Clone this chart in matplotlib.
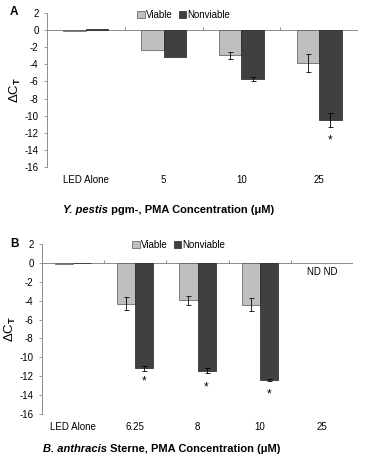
import numpy as np
import matplotlib
matplotlib.use("Agg")
import matplotlib.pyplot as plt

plt.rcParams["font.family"] = ["Liberation Sans", "DejaVu Sans"]
plt.rcParams["axes.unicode_minus"] = False
plt.rcParams["mathtext.fontset"] = "custom"
plt.rcParams["mathtext.rm"] = "Liberation Sans:bold"
plt.rcParams["mathtext.default"] = "rm"

# Panel A: Y. pestis pgm-
cats_a = ["LED Alone", "5", "10", "25"]
viable_a = [-0.05, -2.38, -2.96, -3.9]
viable_err_a = [0.0, 0.0, 0.4, 1.05]
nonviable_a = [0.1, -3.12, -5.69, -10.55]
nonviable_err_a = [0.0, 0.0, 0.2, 0.82]
star_a = [None, None, None, -12.85]
nd_a = [False, False, False, False]

# Panel B: B. anthracis Sterne
cats_b = ["LED Alone", "6.25", "8", "10", "25"]
viable_b = [-0.17, -4.32, -3.96, -4.42, np.nan]
viable_err_b = [0.0, 0.7, 0.5, 0.65, 0.0]
nonviable_b = [-0.05, -11.17, -11.41, -12.37, np.nan]
nonviable_err_b = [0.0, 0.25, 0.25, 0.12, 0.0]
star_b = [None, -12.6, -13.2, -13.9, None]
nd_b = [False, False, False, False, True]

yticks = np.arange(-16, 3, 2)
C_VIA = "#bfbfbf"
C_NON = "#404040"
GRID = "#8c8c8c"
W = 0.29
FS = 7


def panel(fig, rect, cats, via, via_err, non, non_err, stars, nds):
    ax = fig.add_axes(rect)
    x = np.arange(len(cats))
    ax.bar(x - W / 2, via, W, color=C_VIA, edgecolor="#555555", lw=0.5, label="Viable", zorder=2)
    ax.bar(x + W / 2, non, W, color=C_NON, edgecolor="#222222", lw=0.5, label="Nonviable", zorder=2)
    for xi, v, e in zip(x, via, via_err):
        if e > 0:
            ax.errorbar(xi - W / 2, v, yerr=e, color="black", lw=0.6, capsize=1.8, capthick=0.6, zorder=3)
    for xi, v, e in zip(x, non, non_err):
        if e > 0:
            ax.errorbar(xi + W / 2, v, yerr=e, color="black", lw=0.6, capsize=1.8, capthick=0.6, zorder=3)
    for xi, s in zip(x, stars):
        if s is not None:
            ax.text(xi + W / 2, s, "*", ha="center", va="center", fontsize=8.5)
    for xi, nd in zip(x, nds):
        if nd:
            ax.text(xi, -1.0, "ND ND", ha="center", va="center", fontsize=FS)

    # category axis at zero, Excel style
    ax.axhline(0, color=GRID, lw=0.7, zorder=1)
    ax.vlines(x[:-1] + 0.5, 0, 0.35, color=GRID, lw=0.7)
    ax.set_xlim(-0.5, len(cats) - 0.5)
    ax.set_ylim(-16, 2)
    ax.set_yticks(yticks)
    ax.set_xticks(x)
    ax.set_xticklabels(cats)
    ax.tick_params(axis="x", length=0, pad=5.5, labelsize=FS)
    ax.tick_params(axis="y", length=2.5, width=0.6, color=GRID, labelsize=FS, pad=3.5)
    for s in ["top", "right", "bottom"]:
        ax.spines[s].set_visible(False)
    ax.spines["left"].set_color(GRID)
    ax.spines["left"].set_linewidth(0.7)
    ax.set_ylabel("ΔC$_T$", fontsize=9.5, labelpad=1)
    ax.legend(loc="upper center", bbox_to_anchor=(0.44, 1.045), ncol=2, frameon=False,
              fontsize=FS, handlelength=0.75, handleheight=0.75, handletextpad=0.15,
              columnspacing=0.6, borderaxespad=0)
    return ax


fig = plt.figure(figsize=(3.74, 4.59), dpi=100)
ax_a = panel(fig, [47 / 374, 1 - 167 / 459, 311 / 374, 154 / 459],
             cats_a, viable_a, viable_err_a, nonviable_a, nonviable_err_a, star_a, nd_a)
ax_b = panel(fig, [42 / 374, 1 - 414 / 459, 311 / 374, 170 / 459],
             cats_b, viable_b, viable_err_b, nonviable_b, nonviable_err_b, star_b, nd_b)

fig.text(10 / 374, 1 - 12 / 459, "A", fontsize=8.5, fontweight="bold", va="center")
fig.text(10 / 374, 1 - 244 / 459, "B", fontsize=8.5, fontweight="bold", va="center")

# x-axis titles with italic species names
t1 = fig.text(63 / 374, 1 - 210 / 459, "Y. pestis", fontsize=8, fontweight="bold",
              style="italic", va="center")
fig.add_artist(plt.Annotation(" pgm-, PMA Concentration (μM)", xy=(1, 0.5), xycoords=t1,
                              va="center", fontsize=8, fontweight="bold"))
t2 = fig.text(43 / 374, 1 - 449 / 459, "B. anthracis", fontsize=8, fontweight="bold",
              style="italic", va="center")
fig.add_artist(plt.Annotation(" Sterne, PMA Concentration (μM)", xy=(1, 0.5), xycoords=t2,
                              va="center", fontsize=8, fontweight="bold"))

fig.savefig("out.png", dpi=100)
